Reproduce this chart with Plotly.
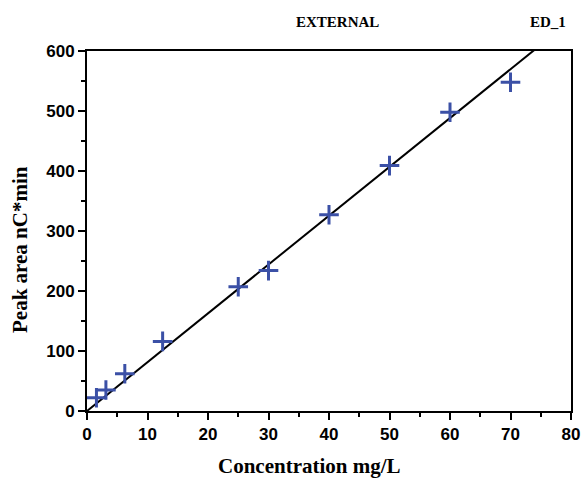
import plotly.graph_objects as go

# Data
conc = [1.5625, 3.125, 6.25, 12.5, 25, 30, 40, 50, 60, 70]
peak_area = [22, 35, 62, 116, 207, 234, 327, 409, 498, 548]
fit_x = [0, 80]
fit_y = [0, 651]

x_ticks = [0, 10, 20, 30, 40, 50, 60, 70, 80]
y_ticks = [0, 100, 200, 300, 400, 500, 600]

x_title = "Concentration mg/L"
y_title = "Peak area nC*min"

sans_bold = dict(family="Liberation Sans, Arial", size=17, color="black", weight="bold")
serif_bold = dict(family="Liberation Serif, Times New Roman", size=21, color="black", weight="bold")
note_font = dict(family="Liberation Serif, Times New Roman", size=15, color="black", weight="bold")

L, R, T, B = 87, 11, 51, 67
W, H = 582, 478
pw = W - L - R
ph = H - T - B

def px(x):
    return (x - L) / pw

def py(y):
    return (H - B - y) / ph

fig = go.Figure()
fig.add_trace(go.Scatter(x=fit_x, y=fit_y, mode="lines",
                         line=dict(color="black", width=2), hoverinfo="skip"))
fig.add_trace(go.Scatter(x=conc, y=peak_area, mode="markers",
                         marker=dict(symbol="cross-thin", size=14,
                                     line=dict(color="#3b50a6", width=3))))

fig.update_layout(
    width=W, height=H,
    margin=dict(l=L, r=R, t=T, b=B, autoexpand=False),
    paper_bgcolor="white", plot_bgcolor="white",
    showlegend=False,
    annotations=[
        dict(text="EXTERNAL", x=px(337), y=py(22), xref="paper", yref="paper",
             xanchor="center", yanchor="middle", showarrow=False, font=note_font),
        dict(text="ED_1", x=px(548), y=py(22), xref="paper", yref="paper",
             xanchor="center", yanchor="middle", showarrow=False, font=note_font),
        dict(text=x_title, x=px(309), y=py(466), xref="paper", yref="paper",
             xanchor="center", yanchor="middle", showarrow=False, font=serif_bold),
        dict(text=y_title, x=px(20), y=py(250), xref="paper", yref="paper",
             xanchor="center", yanchor="middle", textangle=-90, showarrow=False,
             font=serif_bold),
    ],
)

fig.update_xaxes(range=[0, 80], tickvals=x_ticks, ticks="outside", ticklen=7, tickwidth=2,
                 tickcolor="black", showline=True, linecolor="black", linewidth=2, mirror=True,
                 showgrid=False, zeroline=False, tickfont=sans_bold,
                 minor=dict(dtick=5, ticks="outside", ticklen=4, tickwidth=2, tickcolor="black"))
fig.update_yaxes(range=[0, 600], tickvals=y_ticks, ticks="outside", ticklen=7, tickwidth=2,
                 tickcolor="black", showline=True, linecolor="black", linewidth=2, mirror=True,
                 showgrid=False, zeroline=False, tickfont=sans_bold,
                 minor=dict(dtick=50, ticks="outside", ticklen=4, tickwidth=2, tickcolor="black"))

fig.write_html("out.html", config={"displayModeBar": False},
               post_script="document.body.style.margin='0';document.body.style.overflow='hidden';")
